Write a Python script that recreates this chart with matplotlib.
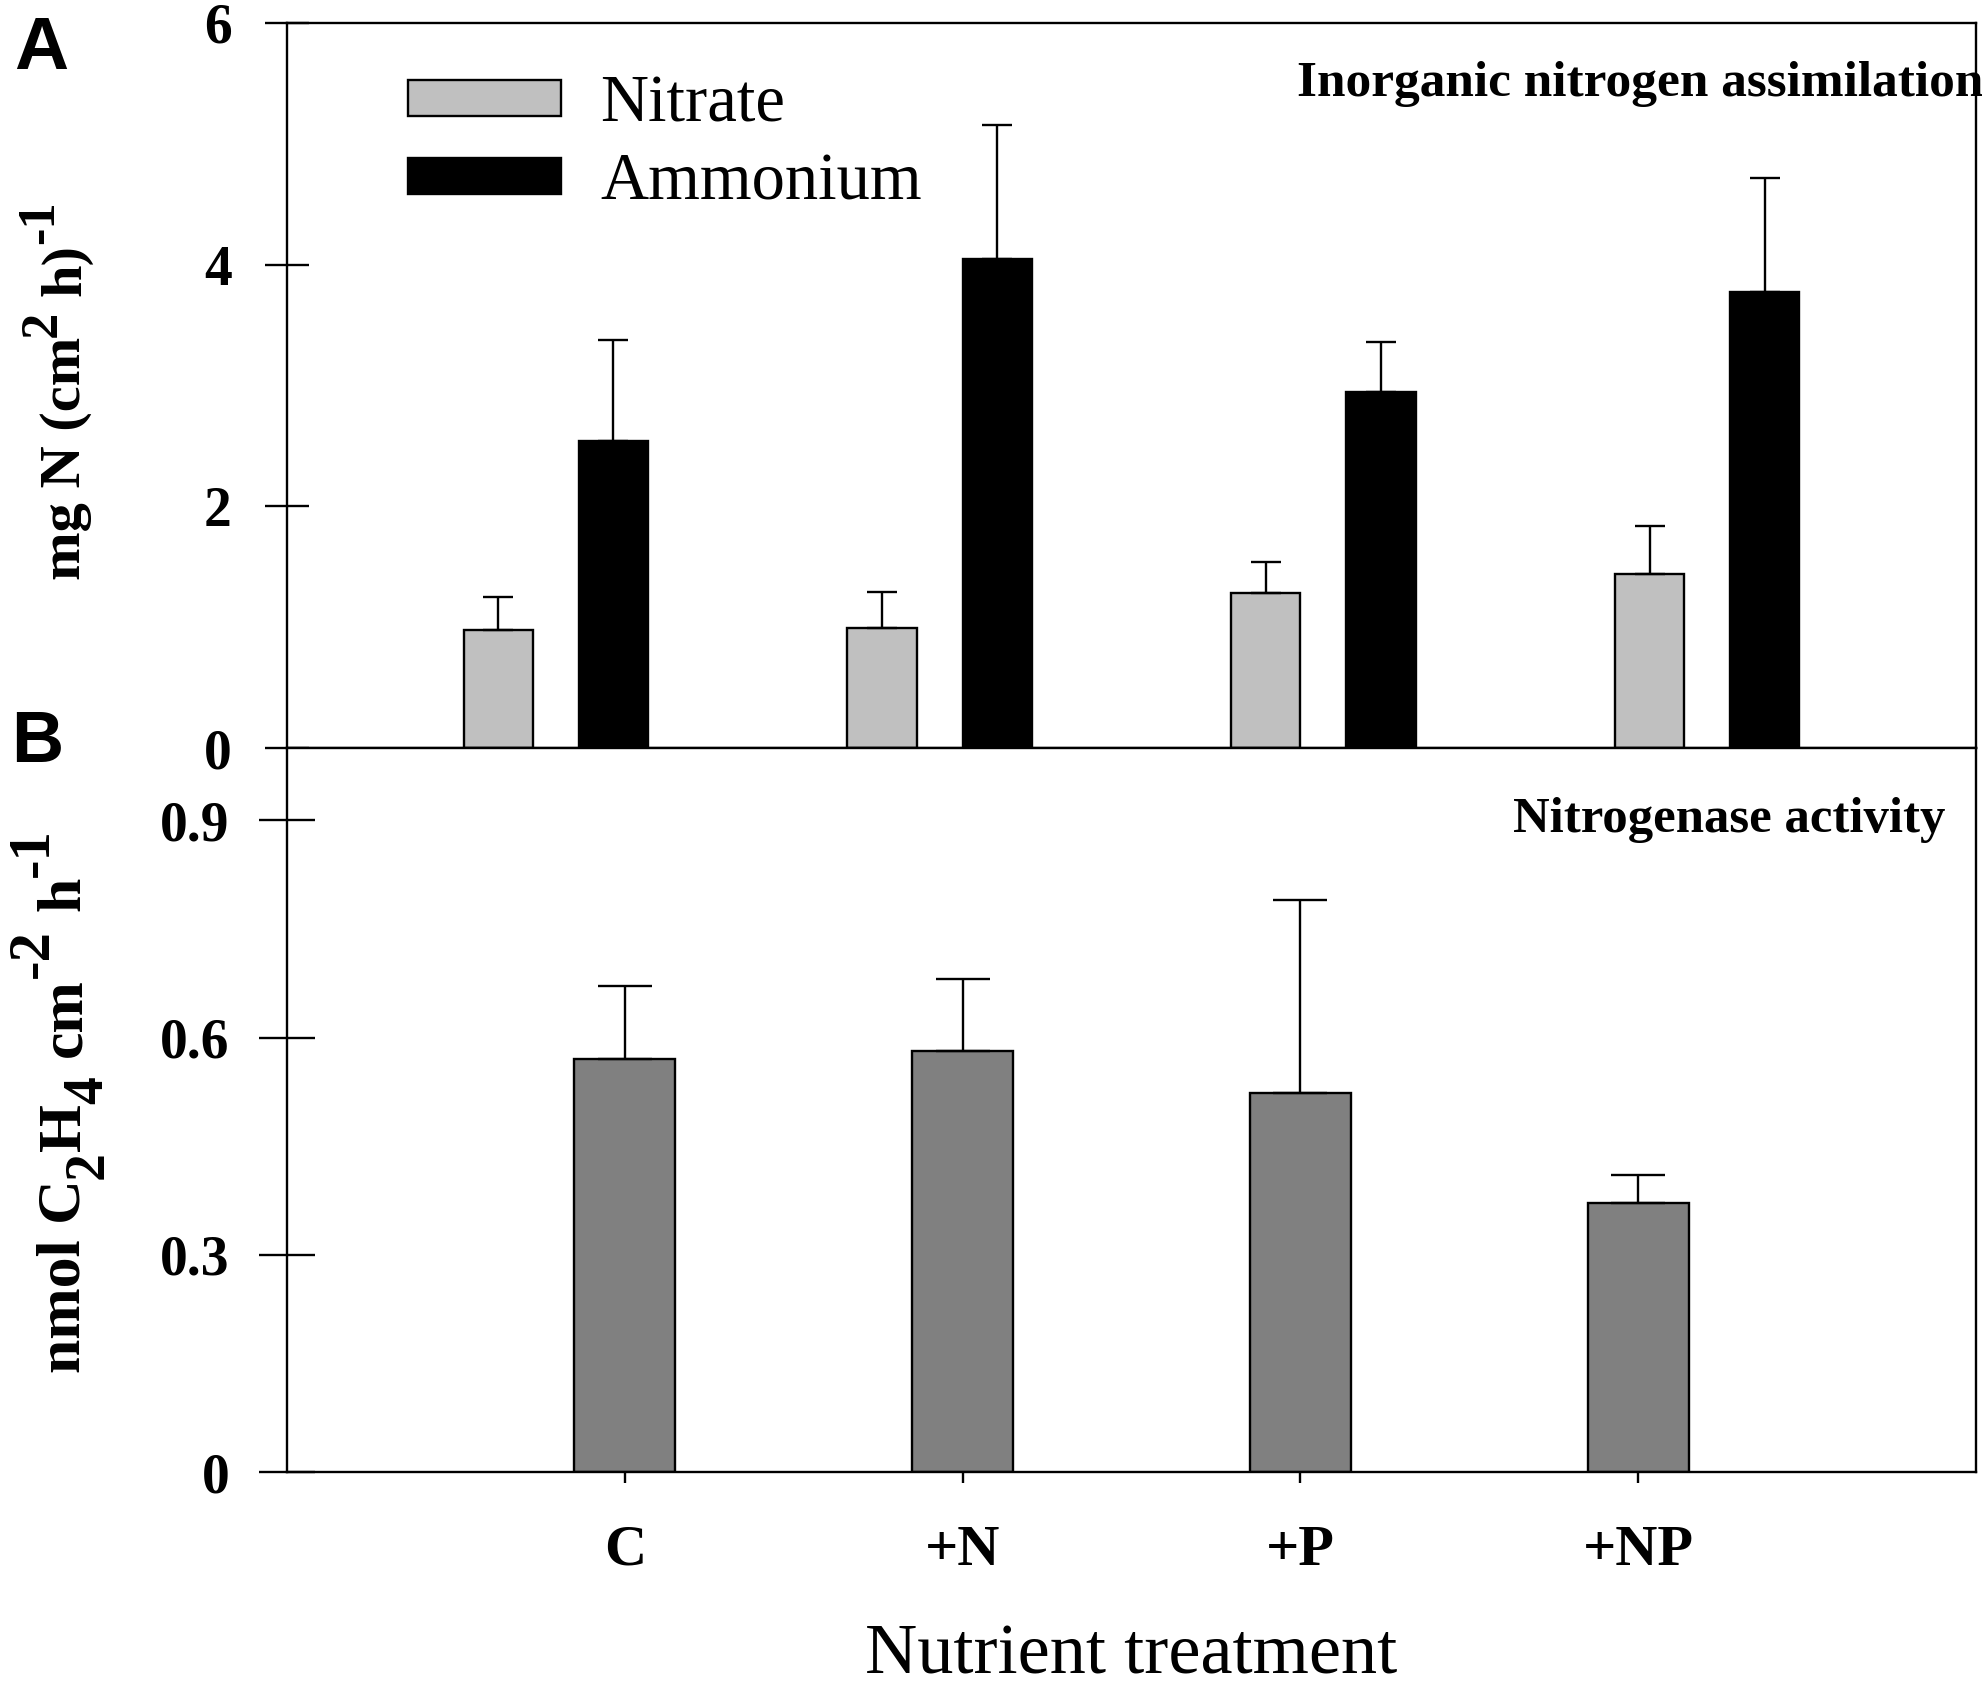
import numpy as np
import matplotlib
matplotlib.use("Agg")
import matplotlib.pyplot as plt
from matplotlib.patches import Patch

plt.rcParams['font.family'] = ['Liberation Serif', 'DejaVu Serif']

# treatments
treatments = ["C", "+N", "+P", "+NP"]

# panel A: inorganic N assimilation, mg N (cm2 h)-1
nitrate = [0.975, 0.995, 1.284, 1.44]
nitrate_err = [0.275, 0.293, 0.252, 0.397]
ammonium = [2.543, 4.043, 2.948, 3.775]
ammonium_err = [0.834, 1.111, 0.409, 0.938]

# panel B: nitrogenase activity, nmol C2H4 cm-2 h-1
nitrogenase = [0.570, 0.582, 0.523, 0.371]
nitrogenase_err = [0.101, 0.099, 0.267, 0.039]

a_ticks = [0, 2, 4, 6]
b_ticks = [0, 0.3, 0.6, 0.9]
b_ticklabels = ["0", "0.3", "0.6", "0.9"]

x = np.arange(len(treatments))
zeros = np.zeros(len(treatments))
lw = 1.7
W, H = 1983, 1686

fig = plt.figure(figsize=(W / 100, H / 100), dpi=100)
left, right = 0.1447, 0.9965
axA = fig.add_axes([left, 0.5563, right - left, 0.9864 - 0.5563])
axB = fig.add_axes([left, 0.1269, right - left, 0.5563 - 0.1269])

# ---- panel A
ekw = dict(elinewidth=lw, capthick=lw, ecolor='black')
axA.bar(x - 0.15, nitrate, 0.18, color='#c0c0c0', edgecolor='black', linewidth=lw,
        yerr=[zeros, nitrate_err], capsize=11, error_kw=ekw, label='Nitrate')
axA.bar(x + 0.15, ammonium, 0.18, color='black', edgecolor='black', linewidth=lw,
        yerr=[zeros, ammonium_err], capsize=11, error_kw=ekw, label='Ammonium')
axA.set_xlim(-0.7, 3.7)
axA.set_ylim(0, 6)
axA.set_xticks([])
axA.set_yticks(a_ticks)
axA.set_yticklabels([str(t) for t in a_ticks], fontsize=40, fontweight='bold')
axA.tick_params(axis='y', direction='inout', length=31.7, width=lw, pad=24)

handles = [Patch(facecolor='#c0c0c0', edgecolor='black', linewidth=lw, label='Nitrate'),
           Patch(facecolor='black', edgecolor='black', linewidth=lw, label='Ammonium')]
axA.legend(handles=handles, loc='upper left', bbox_to_anchor=(0.0716, 0.929),
           frameon=False, fontsize=48, handlelength=2.3, handleheight=0.45,
           handletextpad=0.59, labelspacing=0.26, borderpad=0, borderaxespad=0)
axA.text(0.598, 0.899, "Inorganic nitrogen assimilation", transform=axA.transAxes,
         ha='left', va='baseline', fontsize=37, fontweight='bold')

# ---- panel B
axB.bar(x, nitrogenase, 0.3, color='#808080', edgecolor='black', linewidth=lw,
        yerr=[zeros, nitrogenase_err], capsize=19.4, error_kw=ekw)
axB.set_xlim(-1, 4)
axB.set_ylim(0, 1.0)
axB.set_yticks(b_ticks)
axB.set_yticklabels(b_ticklabels, fontsize=40, fontweight='bold')
axB.tick_params(axis='y', direction='inout', length=40, width=lw, pad=21.6)
axB.set_xticks(x)
axB.set_xticklabels(treatments, fontsize=42, fontweight='bold')
axB.tick_params(axis='x', direction='out', length=8, width=lw, pad=30)
axB.text(0.9816, 0.884, "Nitrogenase activity", transform=axB.transAxes,
         ha='right', va='baseline', fontsize=36.5, fontweight='bold')

for ax in (axA, axB):
    for s in ax.spines.values():
        s.set_linewidth(lw)


# rotated axis labels with near full-size super/subscripts, built piece by piece
def stacked_label(pieces, base_x, start_y, size, gap=0.25):
    renderer = fig.canvas.get_renderer()
    y = start_y
    em = size * 100 / 72
    for text, scale, rise in pieces:
        if text == " ":
            y += gap * em
            continue
        t = fig.text(0, 0, text, fontsize=size * scale, fontweight='bold')
        w = t.get_window_extent(renderer).width
        t.remove()
        fig.text((base_x - rise * em) / W, y / H, text, fontsize=size * scale,
                 fontweight='bold', rotation=90, rotation_mode='anchor',
                 ha='left', va='baseline')
        y += w


stacked_label([("mg N (cm", 1, 0), ("2", 0.9, 0.42), (" ", 1, 0), ("h)", 1, 0),
               ("-1", 0.9, 0.46)], 80, H - 580, 42)
stacked_label([("nmol C", 1, 0), ("2", 0.9, -0.36), ("H", 1, 0), ("4", 0.9, -0.36),
               (" ", 1, 0), ("cm", 1, 0), ("-2", 0.95, 0.52), (" ", 1, 0),
               ("h", 1, 0), ("-1", 0.95, 0.52)], 80, H - 1373, 44.5, gap=0.3)

fig.text(0.5706, 0.0075, "Nutrient treatment", ha='center', va='baseline', fontsize=52)

# panel letters
fig.text(41 / W, 1 - 49.5 / H, "A", ha='center', va='center', fontsize=54,
         fontweight='bold', family='Liberation Sans')
fig.text(37 / W, 1 - 742.5 / H, "B", ha='center', va='center', fontsize=52,
         fontweight='bold', family='Liberation Sans')

fig.savefig("out.png", dpi=100)
